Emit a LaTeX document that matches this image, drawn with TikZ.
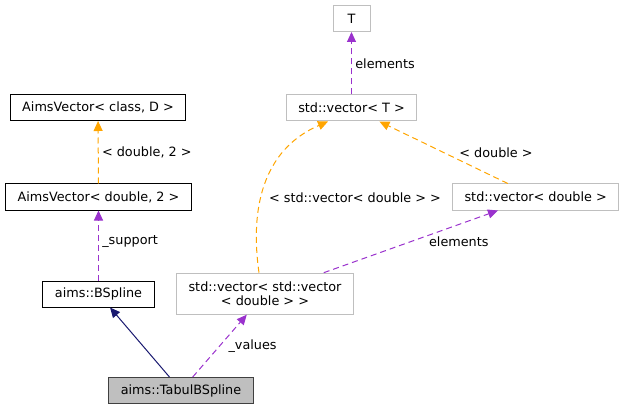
\documentclass[tikz,border=0pt]{standalone}
\usepackage{fontspec}
\setmainfont{DejaVu Sans}
\usetikzlibrary{arrows.meta}

\definecolor{usecol}{HTML}{9A32CD}
\definecolor{tmplcol}{HTML}{FFA500}
\definecolor{inhcol}{HTML}{191970}
\definecolor{extcol}{HTML}{BFBFBF}

\begin{document}
\begin{tikzpicture} [x=1pt, y=-1pt, align=center,
  font=\fontsize{12.8}{14.7}\selectfont,
  box/.style={draw, line width=1pt, inner xsep=12pt, inner ysep=0pt, minimum height=26pt},
  cls/.style={box, draw=black},
  ext/.style={box, draw=extcol},
  cur/.style={box, draw=black!75, fill=extcol},
  edge/.style={line width=1pt, -{Triangle[length=10pt, width=9pt]}},
  usage/.style={edge, draw=usecol, dash pattern=on 6pt off 4pt},
  tmpl/.style={edge, draw=tmplcol, dash pattern=on 6pt off 4pt},
  inh/.style={edge, draw=inhcol}]
\useasboundingbox (0, 0) rectangle (624, 409);

\path (351.5, 18.5) node[ext, minimum width=37pt] (t) {T}
      (351.5, 108) node[ext] (vect) {std::vector< T >}
      (98, 107.5) node[cls] (avclass) {AimsVector< class, D >}
      (98.5, 197) node[cls] (avdouble) {AimsVector< double, 2 >}
      (98.5, 294) node[cls] (bspline) {aims::BSpline}
      (181, 390.5) node[cur] (tabul) {aims::TabulBSpline}
      (265, 293.7) node[ext, minimum height=41pt] (vecvec) {std::vector< std::vector\\< double > >}
      (535.7, 197) node[ext] (vecdouble) {std::vector< double >};

\draw[usage] (vect) to node [right] {elements} (t);
\draw[tmpl] (avdouble) to node [right] {< double, 2 >} (avclass);
\draw[usage] (bspline) to node [right, pos=0.55] {\_support} (avdouble);
\draw[inh] (tabul) to (bspline);
\draw[usage] (tabul) to node [right, xshift=5pt] {\_values} (vecvec);
\draw[usage] (vecvec) to node [pos=0.6, anchor=west, xshift=-3pt, yshift=-6pt] {elements} (vecdouble);
\draw[tmpl] (vecdouble) to node [pos=0.5, anchor=west, xshift=12pt] {< double >} (vect);
\draw[tmpl] ([xshift=-6pt]vecvec.north) .. controls (250, 210) and (262, 150) .. ([xshift=-23.5pt]vect.south)
  node [pos=0.42, anchor=west, xshift=4pt] {< std::vector< double > >};
\end{tikzpicture}
\end{document}
